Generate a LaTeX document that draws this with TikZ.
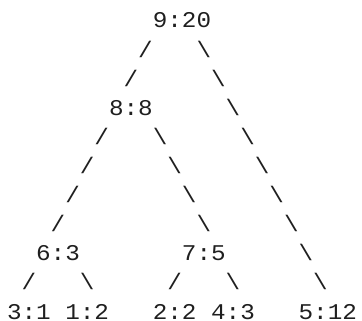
\documentclass[tikz,border=0pt]{standalone}
\usepackage{fontspec}
\newfontfamily\asciifont[FakeStretch=1.08]{Liberation Mono}
\newcommand\bsl{\textbackslash}
\newcommand\fsl{/}
\begin{document}
\begin{tikzpicture}[x=1pt,y=-1pt,
  glyph/.style={inner sep=0pt, outer sep=0pt, anchor=base west, text=black!88,
    font=\asciifont\fontsize{22.5}{29}\selectfont},
  lbl/.style={glyph},
  edgechar/.style={glyph}]
\def\cw{14.58}\def\rh{29.1}\def\xo{7}\def\yo{28}
\useasboundingbox (0,0) rectangle (362,321);
% tree labels: name / column / row / text
\foreach \n/\c/\r/\t in {a/10/0/9:20, b/7/3/8:8, c/2/8/6:3, d/12/8/7:5,
    e/0/10/3:1, f/4/10/1:2, g/10/10/2:2, h/14/10/4:3, i/20/10/5:12}
  \node[lbl] (\n) at ({\xo+\c*\cw},{\yo+\r*\rh}) {\t};
% ASCII connector characters
\foreach \c/\r/\g in {9/1/\fsl, 13/1/\bsl, 8/2/\fsl, 14/2/\bsl, 15/3/\bsl,
    6/4/\fsl, 10/4/\bsl, 16/4/\bsl, 5/5/\fsl, 11/5/\bsl, 17/5/\bsl,
    4/6/\fsl, 12/6/\bsl, 18/6/\bsl, 3/7/\fsl, 13/7/\bsl, 19/7/\bsl,
    20/8/\bsl, 1/9/\fsl, 5/9/\bsl, 11/9/\fsl, 15/9/\bsl, 21/9/\bsl}
  \node[edgechar] (s\c-\r) at ({\xo+\c*\cw},{\yo+\r*\rh}) {\g};
\end{tikzpicture}
\end{document}
